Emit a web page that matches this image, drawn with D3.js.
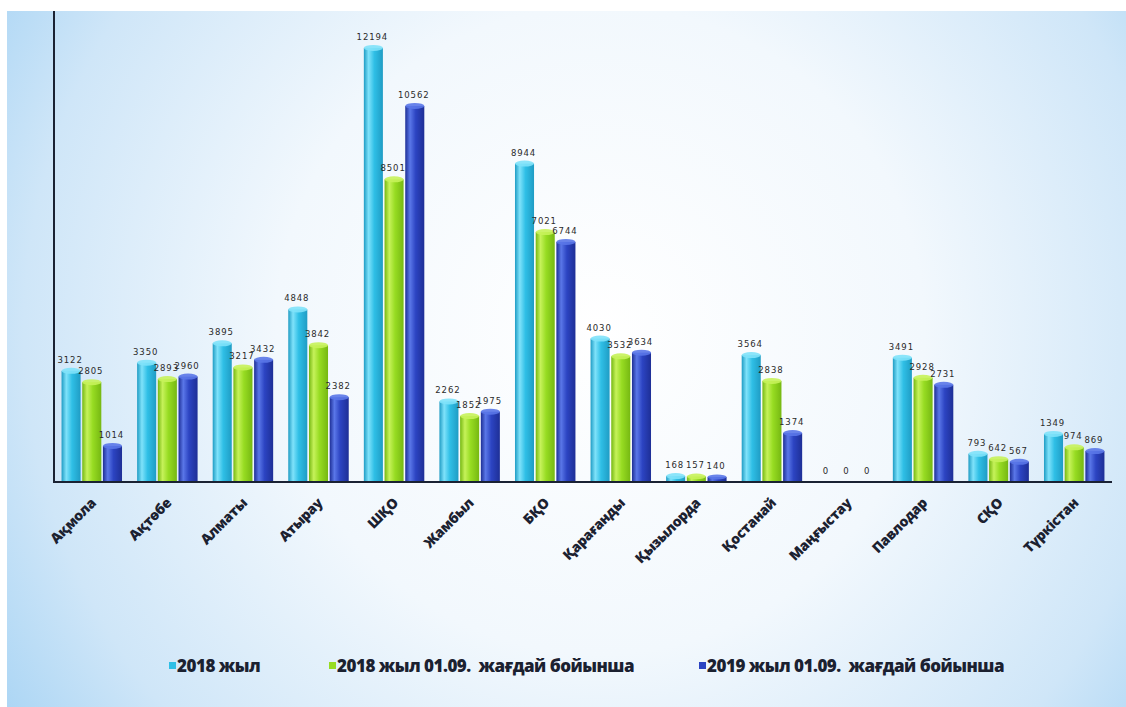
<!DOCTYPE html>
<html><head><meta charset="utf-8">
<script src="https://cdn.jsdelivr.net/npm/d3@7"></script>
<style>
html,body{margin:0;padding:0;background:#fff;}
svg{display:block;}
text.legend{white-space:pre;}
</style></head>
<body>
<svg id="chart" width="1126" height="707"></svg>
<script>
const categories = ["Ақмола","Ақтөбе","Алматы","Атырау","ШҚО","Жамбыл","БҚО","Қарағанды","Қызылорда","Қостанай","Маңғыстау","Павлодар","СҚО","Түркістан"];
const seriesNames = ["2018 жыл","2018 жыл 01.09.  жағдай бойынша","2019 жыл 01.09.  жағдай бойынша"];
const values2018 = [3122,3350,3895,4848,12194,2262,8944,4030,168,3564,0,3491,793,1349];
const values2018sep = [2805,2893,3217,3842,8501,1852,7021,3532,157,2838,0,2928,642,974];
const values2019sep = [1014,2960,3432,2382,10562,1975,6744,3634,140,1374,0,2731,567,869];
const seriesValues = [values2018, values2018sep, values2019sep];
const colors = [
  {base:"#2fbfe6", light:"#7fe2fa", dark:"#1f9cc4"},
  {base:"#97dc22", light:"#c6f25a", dark:"#76b812"},
  {base:"#2c44c2", light:"#5a77e8", dark:"#1e2f96"}
];

(function(){
const svg = d3.select("#chart");
const W = 1126, H = 707;
const defs = svg.append("defs");

// background
const bg = defs.append("radialGradient").attr("id","bg").attr("gradientUnits","userSpaceOnUse")
  .attr("cx",600).attr("cy",330).attr("r",720);
bg.append("stop").attr("offset","0").attr("stop-color","#ffffff");
bg.append("stop").attr("offset","0.45").attr("stop-color","#f2f8fd");
bg.append("stop").attr("offset","0.8").attr("stop-color","#cfe6f8");
bg.append("stop").attr("offset","1").attr("stop-color","#a8d4f4");
svg.append("rect").attr("x",7).attr("y",11).attr("width",W-7).attr("height",H-11).attr("fill","url(#bg)");

colors.forEach((c,i)=>{
  const g = defs.append("linearGradient").attr("id","bar"+i).attr("x1","0").attr("x2","1").attr("y1","0").attr("y2","0");
  g.append("stop").attr("offset","0").attr("stop-color",c.dark);
  g.append("stop").attr("offset","0.25").attr("stop-color",c.light);
  g.append("stop").attr("offset","0.55").attr("stop-color",c.base);
  g.append("stop").attr("offset","1").attr("stop-color",c.dark);
});

const plotL = 54, plotR = 1112, plotB = 482, plotT = 11;
const x = d3.scaleBand().domain(categories).range([plotL,plotR]).paddingInner(0.2).paddingOuter(0.1);
const xs = d3.scaleBand().domain(d3.range(3)).range([0,x.bandwidth()]).paddingInner(0.08);
const y = d3.scaleLinear().domain([0,13230]).range([plotB,plotT]);

// bars
categories.forEach((cat,ci)=>{
  seriesValues.forEach((vals,si)=>{
    const v = vals[ci];
    const bx = x(cat)+xs(si), bw = xs.bandwidth();
    const by = y(v), bh = plotB - by;
    if (bh <= 0) return;
    svg.append("rect").attr("x",bx).attr("y",by).attr("width",bw).attr("height",bh)
      .attr("fill","url(#bar"+si+")");
    svg.append("ellipse").attr("cx",bx+bw/2).attr("cy",by).attr("rx",bw/2).attr("ry",Math.min(3,bh/2))
      .attr("fill",colors[si].light).attr("opacity",0.9);
  });
});

// value labels
categories.forEach((cat,ci)=>{
  seriesValues.forEach((vals,si)=>{
    const v = vals[ci];
    svg.append("text").attr("x",x(cat)+xs(si)+xs.bandwidth()/2-1).attr("y",y(v)-8)
      .attr("text-anchor","middle").attr("font-family","DejaVu Sans, sans-serif").attr("font-size",8.5)
      .attr("letter-spacing","0.9px").attr("fill","#2a2a2a").text(v);
  });
});

// axes
svg.append("line").attr("x1",plotL).attr("x2",plotL).attr("y1",plotT).attr("y2",plotB+1)
  .attr("stroke","#1a2233").attr("stroke-width",2);
const xAxis = d3.axisBottom(x).tickSize(0).tickPadding(0);
const gx = svg.append("g").attr("transform",`translate(0,${plotB})`).call(xAxis);
gx.select(".domain").attr("stroke","#1a2233").attr("stroke-width",2).attr("d",`M${plotL},0H${plotR}`);
gx.selectAll(".tick text")
  .attr("font-family","Open Sans, sans-serif").attr("font-weight","800").attr("font-size",14)
  .attr("letter-spacing","-0.4px")
  .attr("fill","#1b2130").attr("text-anchor","end").attr("dy",0)
  .attr("transform","translate(5,22) rotate(-45)");

// legend
const legendX = [169, 329, 699];
seriesNames.forEach((name,i)=>{
  const g = svg.append("g").attr("transform",`translate(${legendX[i]},0)`);
  g.append("rect").attr("x",0).attr("y",662).attr("width",7).attr("height",7).attr("fill",colors[i].base);
  g.append("text").attr("class","legend").attr("x",8).attr("y",672).attr("font-family","Open Sans, sans-serif").attr("font-weight","800")
    .attr("font-size",17).attr("letter-spacing","-0.5px").attr("fill","#1b2130").text(name);
});
})();
</script>
</body></html>
